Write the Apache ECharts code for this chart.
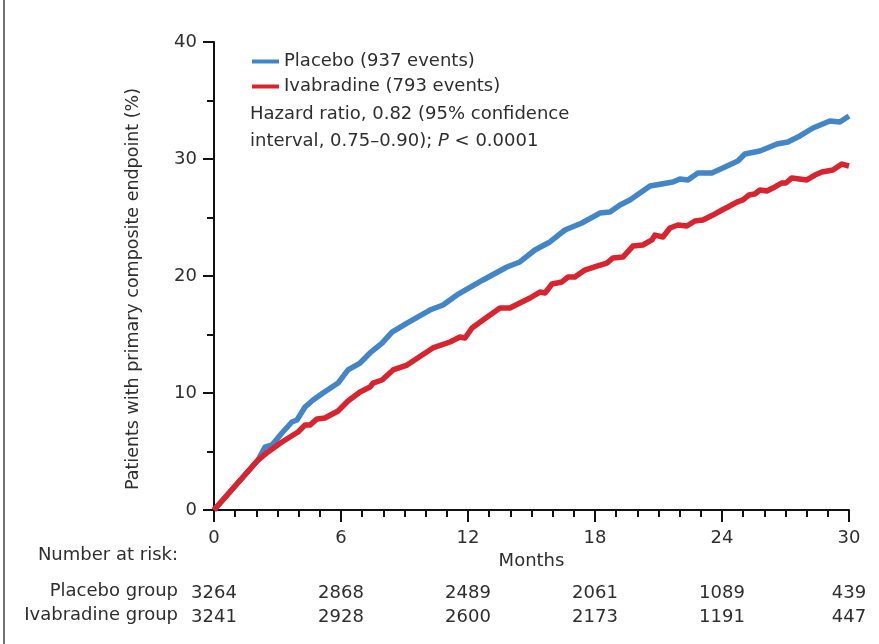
<!DOCTYPE html>
<html>
<head>
<meta charset="utf-8">
<script src="https://cdn.jsdelivr.net/npm/echarts@6/dist/echarts.min.js"></script>
<style>
html,body{margin:0;padding:0;background:#fff;}
#chart{width:879px;height:644px;}
</style>
</head>
<body>
<div id="chart"></div>
<script>
// ---- data ----
var placeboMonths = [0, 2.08, 2.41, 2.74, 3.21, 3.68, 3.92, 4.30, 4.68, 5.15, 5.86, 6.33, 6.90, 7.37, 7.94, 8.41, 9.12, 10.20, 10.82, 11.48, 12.71, 13.84, 14.45, 15.16, 15.87, 16.58, 17.38, 18.23, 18.71, 19.18, 19.65, 20.60, 21.68, 22.01, 22.39, 22.86, 23.52, 24.14, 24.75, 25.08, 25.79, 26.60, 27.11, 27.68, 28.30, 29.10, 29.57, 30.0];
var placeboValues = [0, 4.27, 5.38, 5.56, 6.58, 7.52, 7.69, 8.80, 9.40, 10.0, 10.85, 11.97, 12.56, 13.42, 14.27, 15.21, 15.98, 17.09, 17.52, 18.38, 19.66, 20.77, 21.20, 22.22, 22.91, 23.93, 24.53, 25.38, 25.47, 26.07, 26.50, 27.69, 28.03, 28.29, 28.21, 28.80, 28.80, 29.32, 29.83, 30.43, 30.68, 31.28, 31.45, 31.97, 32.65, 33.25, 33.16, 33.68];
var ivabradineMonths = [0, 2.08, 2.55, 3.21, 3.59, 3.97, 4.30, 4.53, 4.87, 5.24, 5.86, 6.33, 6.90, 7.37, 7.51, 7.94, 8.46, 9.12, 10.34, 11.15, 11.62, 11.86, 12.19, 12.71, 13.51, 13.98, 14.45, 14.93, 15.40, 15.64, 15.97, 16.44, 16.72, 17.05, 17.52, 18.09, 18.56, 18.85, 19.32, 19.79, 20.26, 20.69, 20.83, 21.21, 21.54, 21.92, 22.34, 22.72, 23.10, 23.57, 24.00, 24.28, 24.70, 24.99, 25.27, 25.55, 25.79, 26.12, 26.50, 26.83, 27.02, 27.30, 28.01, 28.39, 28.72, 29.24, 29.66, 30.0];
var ivabradineValues = [0, 4.27, 4.96, 5.81, 6.24, 6.67, 7.26, 7.26, 7.78, 7.86, 8.46, 9.32, 10.09, 10.51, 10.85, 11.11, 11.97, 12.39, 13.85, 14.36, 14.79, 14.70, 15.56, 16.24, 17.26, 17.26, 17.69, 18.12, 18.63, 18.55, 19.32, 19.49, 19.91, 19.91, 20.51, 20.85, 21.11, 21.54, 21.62, 22.56, 22.65, 23.08, 23.50, 23.33, 24.10, 24.36, 24.27, 24.70, 24.79, 25.21, 25.64, 25.90, 26.32, 26.50, 26.92, 27.01, 27.35, 27.26, 27.61, 27.95, 27.95, 28.38, 28.21, 28.63, 28.89, 29.06, 29.57, 29.40];
var riskMonths = [0, 6, 12, 18, 24, 30];
var riskPlacebo = [3264, 2868, 2489, 2061, 1089, 439];
var riskIvabradine = [3241, 2928, 2600, 2173, 1191, 447];
var seriesNames = ['Placebo (937 events)', 'Ivabradine (793 events)'];

function zip(a, b) { return a.map(function (v, i) { return [v, b[i]]; }); }

var FONT = '"DejaVu Sans", sans-serif';
var FS = 18;
var TXT = '#2e2e2e';
var chart = echarts.init(document.getElementById('chart'));

function riskAxis(values, margin) {
  return {
    type: 'value', position: 'bottom', offset: 0, gridIndex: 0,
    min: 0, max: 30, interval: 6,
    axisLine: { show: false }, axisTick: { show: false }, splitLine: { show: false },
    axisLabel: {
      margin: margin, fontFamily: FONT, fontSize: FS, color: TXT,
      formatter: function (v) { var i = riskMonths.indexOf(v); return i >= 0 ? String(values[i]) : ''; }
    }
  };
}

chart.setOption({
  animation: false,
  backgroundColor: '#fff',
  grid: { left: 214, right: 30, top: 42, bottom: 134, containLabel: false },
  legend: {
    orient: 'vertical', left: 252, top: 51, padding: 0,
    icon: 'rect', itemWidth: 27, itemHeight: 4, itemGap: 4,
    textStyle: { fontFamily: FONT, fontSize: FS, color: TXT, lineHeight: 21 },
    data: seriesNames
  },
  xAxis: [{
    type: 'value', position: 'bottom', min: 0, max: 30, interval: 6,
    name: 'Months', nameLocation: 'middle', nameGap: 37,
    nameTextStyle: { fontFamily: FONT, fontSize: FS, color: TXT },
    axisLine: { lineStyle: { color: '#111', width: 2 } },
    axisTick: { length: 12, lineStyle: { color: '#111', width: 2 } },
    minorTick: { show: true, splitNumber: 6, length: 7, lineStyle: { color: '#111', width: 2 } },
    splitLine: { show: false },
    axisLabel: { margin: 19, fontFamily: FONT, fontSize: FS, color: TXT }
  }, riskAxis(riskPlacebo, 74), riskAxis(riskIvabradine, 98)],
  yAxis: {
    type: 'value', min: 0, max: 40, interval: 10,
    axisLine: { show: true, lineStyle: { color: '#111', width: 2 } },
    axisTick: { show: true, length: 11, lineStyle: { color: '#111', width: 2 } },
    minorTick: { show: true, splitNumber: 2, length: 7, lineStyle: { color: '#111', width: 2 } },
    splitLine: { show: false },
    axisLabel: { margin: 17, fontFamily: FONT, fontSize: FS, color: TXT }
  },
  series: [{
    name: seriesNames[0], type: 'line', xAxisIndex: 0, data: zip(placeboMonths, placeboValues),
    showSymbol: false, symbol: 'none', color: '#4386c8',
    lineStyle: { width: 5.5, color: '#4386c8', join: 'round' }, z: 3
  }, {
    name: seriesNames[1], type: 'line', xAxisIndex: 0, data: zip(ivabradineMonths, ivabradineValues),
    showSymbol: false, symbol: 'none', color: '#d7242e',
    lineStyle: { width: 5.5, color: '#d7242e', join: 'round' }, z: 4
  }],
  graphic: [
    { type: 'line', shape: { x1: 4, y1: 0, x2: 4, y2: 644 }, style: { stroke: '#444', lineWidth: 1.5 } },
    { type: 'text', x: 133, y: 289, rotation: Math.PI / 2,
      style: { text: 'Patients with primary composite endpoint (%)', font: '17.5px ' + FONT, fill: TXT, textAlign: 'center', textVerticalAlign: 'middle' } },
    { type: 'text', x: 250, y: 114, style: { text: 'Hazard ratio, 0.82 (95% confidence', font: FS + 'px ' + FONT, fill: TXT, textVerticalAlign: 'middle' } },
    { type: 'text', x: 250, y: 141, style: {
        text: 'interval, 0.75–0.90); {i|P} < 0.0001', font: FS + 'px ' + FONT, fill: TXT, textVerticalAlign: 'middle',
        rich: { i: { fontStyle: 'italic', fontFamily: FONT, fontSize: FS, fill: TXT } } } },
    { type: 'text', x: 178, y: 555, style: { text: 'Number at risk:', font: FS + 'px ' + FONT, fill: TXT, textAlign: 'right', textVerticalAlign: 'middle' } },
    { type: 'text', x: 178, y: 591, style: { text: 'Placebo group', font: FS + 'px ' + FONT, fill: TXT, textAlign: 'right', textVerticalAlign: 'middle' } },
    { type: 'text', x: 178, y: 615, style: { text: 'Ivabradine group', font: FS + 'px ' + FONT, fill: TXT, textAlign: 'right', textVerticalAlign: 'middle' } }
  ]
});
</script>
</body>
</html>
